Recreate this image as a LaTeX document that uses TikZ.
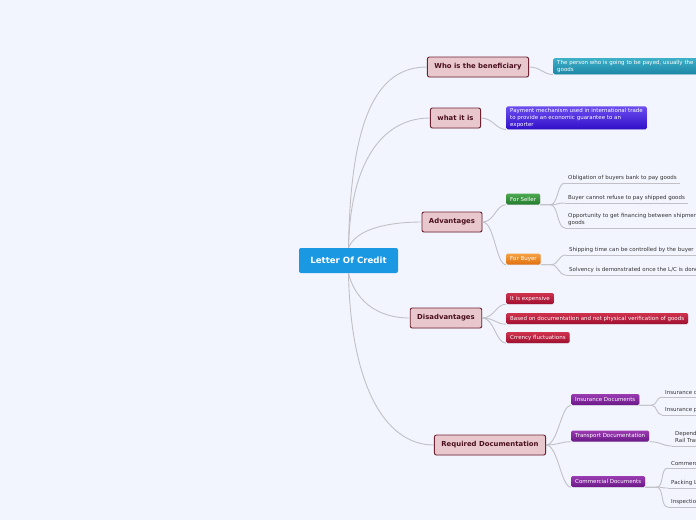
\documentclass[tikz,border=0pt]{standalone}
\usepackage{fontspec}
\setmainfont{DejaVu Sans}
\usetikzlibrary{shadows}
\definecolor{canvas}{RGB}{243,245,254}
\definecolor{linkgray}{RGB}{192,192,198}
\definecolor{rootblue}{RGB}{27,152,226}
\definecolor{topicfill}{RGB}{232,200,205}
\definecolor{topicline}{RGB}{110,34,51}
\definecolor{topictext}{RGB}{74,15,30}
\definecolor{leaftext}{RGB}{51,51,51}

\begin{document}
\begin{tikzpicture}[
    x=1pt, y=-1pt,
    every node/.style={font=\fontsize{5.5}{6.8}\selectfont},
    root/.style={rectangle, rounded corners=2pt, fill=rootblue, text=white, font=\fontsize{8.6}{10}\selectfont\bfseries, minimum width=99pt, minimum height=25pt},
    topic/.style={rectangle, rounded corners=2pt, draw=topicline, line width=0.9pt, fill=topicfill, text=topictext, font=\fontsize{6.9}{8}\selectfont\bfseries, minimum height=20pt, inner xsep=7pt, drop shadow={opacity=0.2, shadow xshift=0.6pt, shadow yshift=-0.6pt}},
    tag/.style={rectangle, rounded corners=1.5pt, anchor=west, text=white, inner xsep=4pt, inner ysep=2pt, minimum height=11pt, align=left, drop shadow={opacity=0.15, shadow xshift=0.5pt, shadow yshift=-0.5pt}},
    payee/.style={tag, top color={rgb,255:red,62;green,176;blue,200}, bottom color={rgb,255:red,28;green,134;blue,166}},
    mechanism/.style={tag, top color={rgb,255:red,108;green,78;blue,240}, bottom color={rgb,255:red,48;green,16;blue,200}},
    seller/.style={tag, top color={rgb,255:red,76;green,170;blue,80}, bottom color={rgb,255:red,38;green,122;blue,46}},
    buyer/.style={tag, top color={rgb,255:red,246;green,162;blue,66}, bottom color={rgb,255:red,224;green,112;blue,16}},
    con/.style={tag, top color={rgb,255:red,208;green,50;blue,78}, bottom color={rgb,255:red,160;green,16;blue,48}},
    doc/.style={tag, top color={rgb,255:red,156;green,60;blue,178}, bottom color={rgb,255:red,106;green,24;blue,136}},
    leaf/.style={anchor=south west, text=leaftext, inner xsep=3pt, inner ysep=2.5pt, align=left},
    link/.style={draw=linkgray, line width=0.9pt}
]
\useasboundingbox (0,0) rectangle (696,520);
\clip (0,0) rectangle (696,520);
\fill[canvas] (0,0) rectangle (696,520);

% central idea
\node[root] (loc) at (348.5,260.5) {Letter Of Credit};

% main topics
\node[topic] (who) at (478,67) {Who is the beneficiary};
\node[topic] (what) at (455.5,118) {what it is};
\node[topic] (adv) at (452,222) {Advantages};
\node[topic] (dis) at (446,318) {Disadvantages};
\node[topic] (req) at (490,445) {Required Documentation};

% second level
\node[payee, anchor=north west, text width=150pt] (person) at (553,58) {The person who is going to be payed, usually the\\goods};
\node[mechanism, anchor=south west] (mech) at (506,129.5) {Payment mechanism used in international trade\\to provide an economic guarantee to an\\exporter};
\node[seller] (sell) at (506,199) {For Seller};
\node[buyer] (buy) at (506,259) {For Buyer};
\node[con] (d1) at (506,298.5) {It is expensive};
\node[con] (d2) at (506,318.5) {Based on documentation and not physical verification of goods};
\node[con] (d3) at (506,337.5) {Crrency fluctuations};
\node[doc] (ins) at (571,399.5) {Insurance Documents};
\node[doc] (trn) at (571,436) {Transport Documentation};
\node[doc] (com) at (571,481.5) {Commercial Documents};

% leaves
\node[leaf] (s1) at (565,183) {Obligation of buyers bank to pay goods};
\node[leaf] (s2) at (565,203) {Buyer cannot refuse to pay shipped goods};
\node[leaf] (s3) at (565,228) {Opportunity to get financing between shipment\\goods};
\node[leaf] (b1) at (566,255) {Shipping time can be controlled by the buyer};
\node[leaf] (b2) at (566,275) {Solvency is demonstrated once the L/C is done};
\node[leaf] (i1) at (662,397) {Insurance certificate};
\node[leaf] (i2) at (662,415) {Insurance policy};
\node[leaf] (t1) at (672,446) {Depending\\Rail Transport};
\node[leaf] (c1) at (668,468) {Commercial Invoice};
\node[leaf] (c2) at (668,488) {Packing List};
\node[leaf] (c3) at (668,507) {Inspection Certificate};

% connectors
\draw[link] (loc.north) .. controls +(2,-130) and +(-50,0) .. (who.west);
\draw[link] (loc.north) .. controls +(2,-90) and +(-45,0) .. (what.west);
\draw[link] (loc.north) .. controls +(8,-20) and +(-30,0) .. (adv.west);
\draw[link] (loc.south) .. controls +(6,25) and +(-35,0) .. (dis.west);
\draw[link] (loc.south) .. controls +(2,110) and +(-50,0) .. (req.west);

\draw[link] (who.east) .. controls +(12,0) and +(-10,0) .. (person.south west);
\draw[link] (what.east) .. controls +(12,0) and +(-10,0) .. (mech.south west);
\foreach \n in {sell,buy}
  \draw[link] (adv.east) .. controls +(12,0) and +(-10,0) .. (\n.south west);
\foreach \n in {d1,d2,d3}
  \draw[link] (dis.east) .. controls +(12,0) and +(-10,0) .. (\n.south west);
\foreach \n in {ins,trn,com}
  \draw[link] (req.east) .. controls +(12,0) and +(-10,0) .. (\n.south west);

\foreach \n in {s1,s2,s3}
  \draw[link] (sell.south east) -- ++(10,0) .. controls +(8,0) and +(-8,0) .. (\n.south west);
\foreach \n in {b1,b2}
  \draw[link] (buy.south east) -- ++(10,0) .. controls +(8,0) and +(-8,0) .. (\n.south west);
\foreach \n in {i1,i2}
  \draw[link] (ins.south east) -- ++(12,0) .. controls +(6,0) and +(-6,0) .. (\n.south west);
\draw[link] (trn.south east) .. controls +(12,0) and +(-10,0) .. (t1.south west);
\foreach \n in {c1,c2,c3}
  \draw[link] (com.south east) -- ++(11,0) .. controls +(8,0) and +(-8,0) .. (\n.south west);

% underlines of the leaves
\foreach \n in {s1,s2,s3,b1,b2,i1,i2,t1,c1,c2,c3}
  \draw[link] (\n.south west) -- (\n.south east);
\end{tikzpicture}
\end{document}
